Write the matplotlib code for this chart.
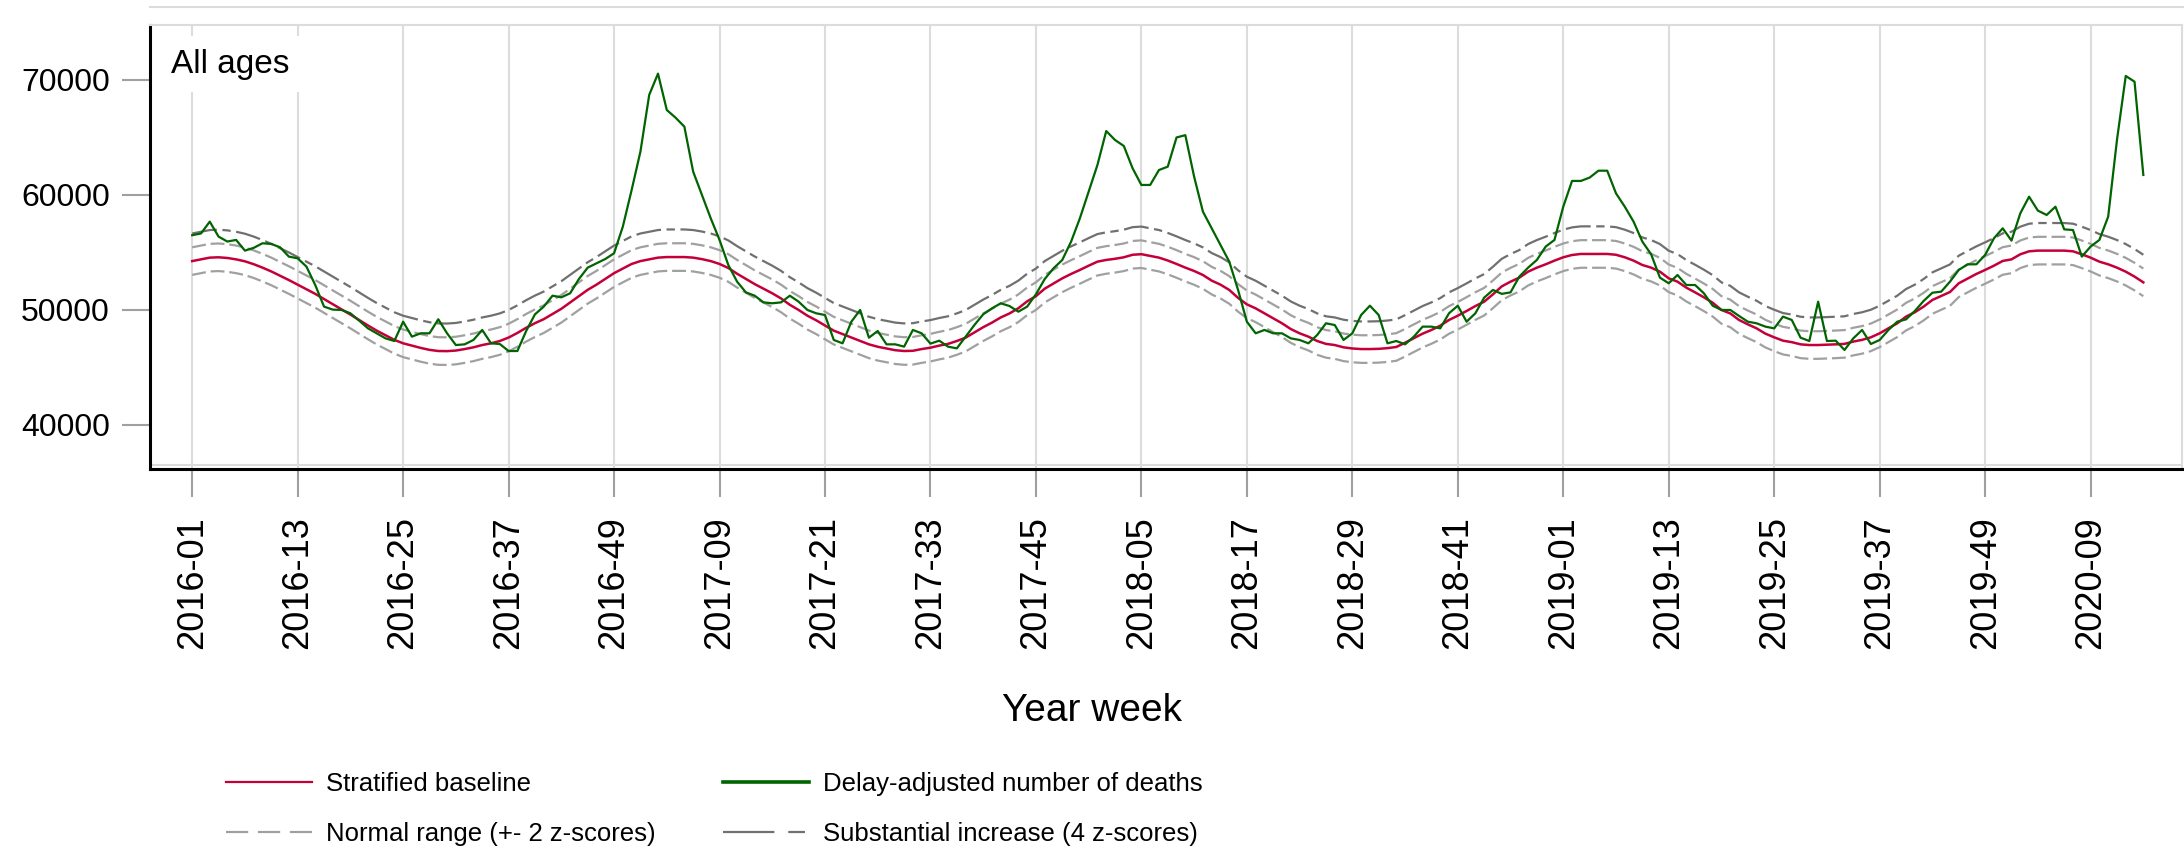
import matplotlib
matplotlib.use("Agg")
import matplotlib.pyplot as plt
from matplotlib.lines import Line2D

plt.rcParams["font.family"] = ["Liberation Sans Narrow", "Liberation Sans", "DejaVu Sans"]
plt.rcParams["lines.scale_dashes"] = False

# weekly delay-adjusted deaths, 2016-01 .. 2020-15
deaths = [
    56500, 56650, 57680, 56380, 55950, 56090, 55160, 55400, 55800, 55740, 55450, 54640,
    54490, 53770, 52170, 50290, 50030, 50000, 49710, 49070, 48400, 47970, 47530, 47300,
    48980, 47680, 47970, 47970, 49190, 47970, 46950, 47010, 47390, 48260, 47100, 47040,
    46430, 46430, 48170, 49620, 50290, 51240, 51100, 51450, 52690, 53680, 54060, 54430,
    54930, 57250, 60430, 63770, 68700, 70550, 67390, 66720, 65940, 62030, 60000, 57970,
    56090, 53910, 52460, 51530, 51240, 50660, 50580, 50660, 51240, 50720, 50000, 49710,
    49560, 47390, 47100, 48980, 50000, 47590, 48170, 47010, 47010, 46810, 48260, 47970,
    47070, 47330, 46810, 46660, 47680, 48690, 49620, 50140, 50580, 50340, 49850, 50290,
    51360, 52690, 53620, 54350, 55940, 57970, 60290, 62610, 65560, 64780, 64260, 62320,
    60870, 60870, 62170, 62460, 65000, 65200, 61590, 58550, 57100, 55650, 54200, 51740,
    48980, 47970, 48260, 47970, 47970, 47530, 47390, 47100, 47820, 48840, 48690, 47390,
    47970, 49560, 50370, 49560, 47100, 47300, 47010, 47680, 48550, 48550, 48400, 49710,
    50370, 48980, 49710, 51070, 51740, 51400, 51530, 52900, 53680, 54350, 55510, 56090,
    58980, 61220, 61220, 61510, 62110, 62110, 60140, 58980, 57680, 55940, 54840, 52810,
    52320, 53040, 52170, 52170, 51450, 50370, 50000, 50000, 49480, 48980, 48840, 48550,
    48400, 49420, 49130, 47590, 47300, 50720, 47300, 47330, 46520, 47530, 48260, 47040,
    47390, 48260, 48980, 49180, 49910, 50780, 51500, 51590, 52460, 53480, 53970, 53970,
    54780, 56230, 57100, 56030, 58400, 59850, 58640, 58260, 58980, 57010, 56950, 54640,
    55510, 56090, 58110, 64780, 70350, 69850, 61740,
]

# stratified baseline for the same weeks
baseline = [
    54250, 54400, 54550, 54580, 54520, 54400, 54230, 53980, 53680, 53350, 52980, 52600,
    52200, 51800, 51400, 50950, 50500, 50050, 49600, 49120, 48650, 48200, 47800, 47400,
    47100, 46900, 46700, 46530, 46430, 46420, 46470, 46600, 46750, 46950, 47100, 47300,
    47600, 48000, 48450, 48850, 49200, 49650, 50100, 50650, 51200, 51750, 52200, 52700,
    53200, 53600, 54000, 54250, 54400, 54550, 54600, 54600, 54600, 54550, 54420, 54250,
    54000, 53650, 53150, 52700, 52250, 51850, 51450, 51000, 50450, 50000, 49500, 49100,
    48650, 48200, 47900, 47590, 47300, 47010, 46800, 46650, 46500, 46430, 46450, 46600,
    46720, 46900, 47050, 47300, 47590, 48050, 48500, 48900, 49350, 49700, 50150, 50750,
    51200, 51850, 52300, 52750, 53130, 53480, 53850, 54200, 54350, 54450, 54580, 54800,
    54850, 54700, 54550, 54300, 54000, 53680, 53390, 53040, 52550, 52200, 51740, 51050,
    50490, 50140, 49710, 49270, 48840, 48340, 47970, 47680, 47300, 47050, 46950, 46750,
    46650, 46600, 46600, 46620, 46680, 46780, 47150, 47550, 47940, 48260, 48630, 49130,
    49500, 49910, 50340, 50720, 51360, 52050, 52460, 52810, 53330, 53680, 53970, 54290,
    54580, 54780, 54870, 54870, 54870, 54870, 54800, 54580, 54290, 53910, 53680, 53330,
    52750, 52460, 51940, 51530, 51100, 50630, 50000, 49700, 49130, 48750, 48400, 47940,
    47620, 47330, 47200, 47010, 46950, 46950, 46980, 47010, 47050, 47250, 47400, 47620,
    47970, 48400, 48840, 49420, 49800, 50290, 50870, 51210, 51560, 52320, 52720, 53130,
    53480, 53850, 54260, 54400, 54840, 55100, 55160, 55160, 55160, 55160, 55100, 54840,
    54550, 54200, 53970, 53680, 53330, 52900, 52400,
]

z_score = 600

tick_labels = [
    "2016-01", "2016-13", "2016-25", "2016-37", "2016-49", "2017-09", "2017-21",
    "2017-33", "2017-45", "2018-05", "2018-17", "2018-29", "2018-41", "2019-01",
    "2019-13", "2019-25", "2019-37", "2019-49", "2020-09",
]
y_ticks = [40000, 50000, 60000, 70000]

RED = "#C4003A"
GREEN = "#006400"
LGRAY = "#A0A0A0"
DGRAY = "#707070"
GRID = "#DCDCDC"

weeks = list(range(len(deaths)))
normal_hi = [b + 2 * z_score for b in baseline]
normal_lo = [b - 2 * z_score for b in baseline]
substantial = [b + 4 * z_score for b in baseline]

fig = plt.figure(figsize=(21.84, 8.52), dpi=100)
ax = fig.add_axes([150 / 2184, 1 - 469 / 852, 2032 / 2184, 444 / 852])

ax.plot(weeks, normal_hi, color=LGRAY, lw=1.6, dashes=(10, 3.5), zorder=3)
ax.plot(weeks, normal_lo, color=LGRAY, lw=1.6, dashes=(10, 3.5), zorder=3)
ax.plot(weeks, substantial, color=DGRAY, lw=1.6, dashes=(18, 4, 6, 4), zorder=3)
ax.plot(weeks, baseline, color=RED, lw=1.8, zorder=4)
ax.plot(weeks, deaths, color=GREEN, lw=1.6, zorder=5)

ax.set_xlim(-4.8, 226.4)
ax.set_ylim(36170, 74780)
tick_pos = [12 * k for k in range(len(tick_labels))]
ax.set_xticks(tick_pos)
ax.set_xticklabels(tick_labels, rotation=90, fontsize=26)
ax.set_yticks(y_ticks)
ax.set_yticklabels([str(v) for v in y_ticks], fontsize=23)
ax.tick_params(axis="both", direction="out", length=20, width=1.5, color=LGRAY)
ax.tick_params(axis="x", pad=14)
ax.tick_params(axis="y", pad=9)
ax.grid(axis="x", color=GRID, lw=1.5, zorder=0)
ax.set_axisbelow(True)

for side in ["top", "right"]:
    ax.spines[side].set_color(GRID)
    ax.spines[side].set_linewidth(1.5)
for side in ["left", "bottom"]:
    ax.spines[side].set_color("black")
    ax.spines[side].set_linewidth(2.2)
ax.plot([0, 1], [0.009, 0.009], transform=ax.transAxes, color=GRID, lw=1.5, zorder=1)

ax.text(0.0103, 0.912, "All ages", transform=ax.transAxes, fontsize=24,
        va="center", ha="left", zorder=6,
        bbox=dict(facecolor="white", edgecolor="none", pad=9))

fig.add_artist(Line2D([150 / 2184, 1], [1 - 7 / 852, 1 - 7 / 852], color=GRID, lw=1.5))

fig.text(0.5, 1 - 711 / 852, "Year week", fontsize=28, ha="center", va="center")

handles = [
    Line2D([], [], color=RED, lw=1.6),
    Line2D([], [], color=LGRAY, lw=1.6, dashes=(16, 7)),
    Line2D([], [], color=GREEN, lw=2.6),
    Line2D([], [], color=DGRAY, lw=1.6, dashes=(37, 10, 12, 10)),
]
labels = [
    "Stratified baseline",
    "Normal range (+- 2 z-scores)",
    "Delay-adjusted number of deaths",
    "Substantial increase (4 z-scores)",
]
fig.legend(handles, labels, ncol=2, loc="upper left", bbox_to_anchor=(226 / 2184, 1 - 772 / 852),
           frameon=False, fontsize=18.5, handlelength=3.35, handletextpad=0.55,
           columnspacing=2.6, labelspacing=1.02, borderpad=0, borderaxespad=0)

fig.savefig("out.png", dpi=100)
